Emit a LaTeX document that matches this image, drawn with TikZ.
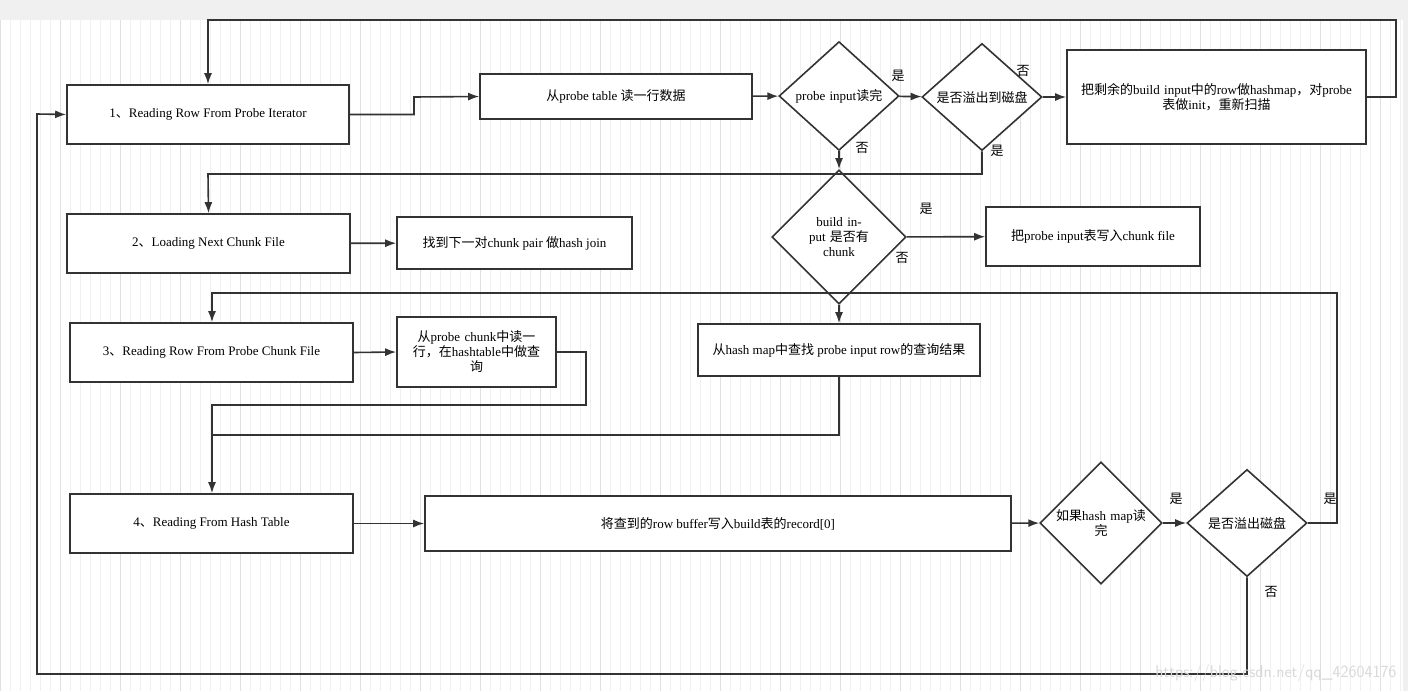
\documentclass[tikz,border=0pt]{standalone}
\usepackage{fontspec}
\setmainfont{Liberation Serif}
\newfontfamily\cjk{Noto Sans CJK SC}
\newcommand{\zh}[1]{{\cjk #1}}
\usetikzlibrary{shapes.geometric,arrows.meta}
\definecolor{lc}{HTML}{333333}
\begin{document}
\begin{tikzpicture}[x=1pt,y=-1pt,
 box/.style={draw=lc,line width=1.6pt,fill=white,minimum width=#1,inner sep=2pt,font=\fontsize{13}{15}\selectfont,align=center},
 dia/.style={draw=lc,line width=1.6pt,fill=white,diamond,minimum width=120pt,minimum height=80pt,inner sep=0pt,font=\fontsize{13}{15}\selectfont,align=center,text width=95pt},
 ar/.style={draw=lc,line width=1.6pt,-{Latex[length=11pt,width=8pt]}},
 lb/.style={font=\fontsize{13}{15}\selectfont}]
\useasboundingbox (0,0) rectangle (1408,691);
\fill[white] (0,0) rectangle (1408,691);
\draw[black!6,line width=0.5pt] (0,20) grid[step=10] (1408,691);
\draw[black!12,line width=0.6pt] (0,20) grid[step=60] (1408,691);
\fill[black!6] (0,0) rectangle (1408,20);
\fill[black!6] (1403,20) rectangle (1408,691);

\node[box=282pt,minimum height=59pt] (A1) at (208,114.5) {1\zh{、}Reading Row From Probe Iterator};
\node[box=272pt,minimum height=45pt] (B1) at (616,96.5) {\zh{从}probe table \zh{读一行数据}};
\node[dia] (D1) at (839,96) {probe input\zh{读完}};
\node[dia] (D2) at (982,97) {\zh{是否溢出到磁盘}};
\node[box=299pt,minimum height=94pt,text width=280pt] (R1) at (1216.5,97) {\zh{把剩余的}build input\zh{中的}row\zh{做}hashmap\zh{，对}probe \zh{表做}init\zh{，重新扫描}};
\node[box=283pt,minimum height=59pt] (A2) at (208.5,243.5) {2\zh{、}Loading Next Chunk File};
\node[box=235pt,minimum height=52pt] (B2) at (514.5,243) {\zh{找到下一对}chunk pair \zh{做}hash join};
\node[dia] (D3) at (839,237) {build input \zh{是否有}\\chunk};
\node[box=214pt,minimum height=59pt] (R3) at (1093,236.5) {\zh{把}probe input\zh{表写入}chunk file};
\node[box=283pt,minimum height=59pt] (A3) at (211.5,352.5) {3\zh{、}Reading Row From Probe Chunk File};
\node[box=159pt,minimum height=70pt,text width=140pt] (B3) at (476.5,352) {\zh{从}probe chunk\zh{中读一}\\\zh{行，在}hashtable\zh{中做查}\\\zh{询}};
\node[box=282pt,minimum height=52pt] (M3) at (839,350) {\zh{从}hash map\zh{中查找} probe input row\zh{的查询结果}};
\node[box=283pt,minimum height=59pt] (A4) at (211.5,523.5) {4\zh{、}Reading From Hash Table};
\node[box=586pt,minimum height=55pt] (B4) at (718,523.5) {\zh{将查到的}row buffer\zh{写入}build\zh{表的}record[0]};
\node[dia] (D4) at (1101,523) {\zh{如果}hash map\zh{读}\\\zh{完}};
\node[dia] (D5) at (1247,523) {\zh{是否溢出磁盘}};

\coordinate (t1) at (414,114.5);\coordinate (t2) at (414,97);
\draw[ar] (A1.east) -- (t1) -- (t2) -- (B1.west);
\draw[ar] (B1) -- (D1);
\draw[ar] (D1) -- (D2);
\draw[ar] (D2) -- (R1);
\coordinate (u1) at (1396,97);\coordinate (u2) at (1396,20);\coordinate (u3) at (208,20);
\draw[ar] (R1.east) -- (u1) -- (u2) -- (u3) -- (A1.north);
\draw[ar] (D1) -- (D3);
\coordinate (v1) at (982,174);\coordinate (v2) at (208,174);
\draw[ar] (D2.south) -- (v1) -- (v2) -- (A2.north);
\draw[ar] (A2) -- (B2);
\draw[ar] (D3) -- (R3);
\draw[ar] (D3) -- (M3);
\coordinate (w1) at (1337,523);\coordinate (w2) at (1337,293);\coordinate (w3) at (212,293);
\draw[ar] (D5.east) -- (w1) -- (w2) -- (w3) -- (A3.north -| w3);
\draw[ar] (A3.east) -- (B3.west);
\coordinate (x1) at (586,352);\coordinate (x2) at (586,405);\coordinate (x3) at (212,405);
\draw[ar] (B3.east) -- (x1) -- (x2) -- (x3) -- (A4.north -| x3);
\coordinate (y1) at (839,435);\coordinate (y2) at (212,435);
\draw[lc,line width=1.6pt] (M3.south) -- (y1) -- (y2);
\draw[ar] (A4) -- (B4);
\draw[ar] (B4) -- (D4);
\draw[ar] (D4) -- (D5);
\coordinate (z1) at (1247,674);\coordinate (z2) at (37,674);\coordinate (z3) at (37,114);
\draw[ar] (D5.south) -- (z1) -- (z2) -- (z3) -- (A1.west);

\node[lb] at (898,76) {\zh{是}};
\node[lb] at (1023,71) {\zh{否}};
\node[lb] at (862,148) {\zh{否}};
\node[lb] at (997,151) {\zh{是}};
\node[lb] at (926,209) {\zh{是}};
\node[lb] at (902,258) {\zh{否}};
\node[lb] at (1176,499) {\zh{是}};
\node[lb] at (1330,499) {\zh{是}};
\node[lb] at (1271,592) {\zh{否}};
\node[text=black!15,font=\fontsize{17}{19}\selectfont\sffamily,anchor=east] at (1400,673) {https://blog.csdn.net/qq\_42604176};
\end{tikzpicture}
\end{document}
